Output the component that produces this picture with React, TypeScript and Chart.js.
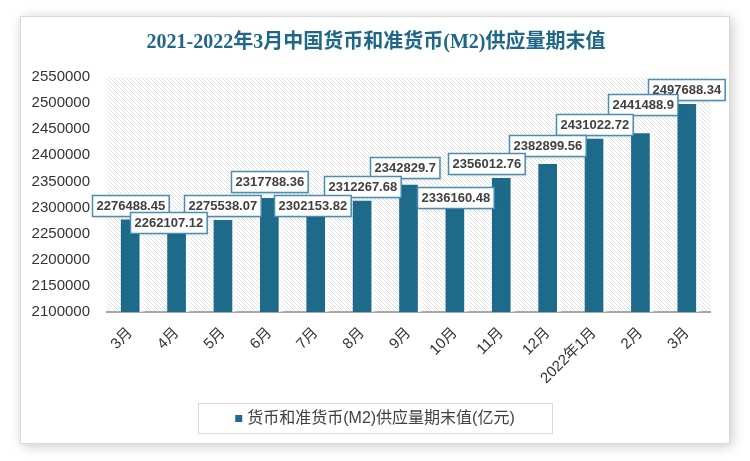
import React, { useEffect, useRef } from "react";
import { Chart, registerables } from "chart.js";

Chart.register(...registerables);

const titleText = "2021-2022年3月中国货币和准货币(M2)供应量期末值";
const seriesName = "货币和准货币(M2)供应量期末值(亿元)";
const categories = ["3月", "4月", "5月", "6月", "7月", "8月", "9月", "10月", "11月", "12月", "2022年1月", "2月", "3月"];
const values = [2276488.45, 2262107.12, 2275538.07, 2317788.36, 2302153.82, 2312267.68, 2342829.7, 2336160.48, 2356012.76, 2382899.56, 2431022.72, 2441488.9, 2497688.34];
const labelTexts = ["2276488.45", "2262107.12", "2275538.07", "2317788.36", "2302153.82", "2312267.68", "2342829.7", "2336160.48", "2356012.76", "2382899.56", "2431022.72", "2441488.9", "2497688.34"];
const yMin = 2100000;
const yMax = 2550000;
const yStep = 50000;

// label nudges (dx, dy) in px relative to default position above bar
const labelNudge: [number, number][] = [
  [0, 0], [-8, 10], [-1, 0], [0, -2], [-3, 14], [0, 0], [-4, -3],
  [0, 23], [-15, 0], [0, -4], [0, 0], [2, -15], [0, 0],
];

const BAR = "#1d6a8b";
const SANS = "'Liberation Sans', 'Noto Sans CJK SC', sans-serif";

function makePattern(ctx: CanvasRenderingContext2D) {
  const c = document.createElement("canvas");
  c.width = 4;
  c.height = 4;
  const p = c.getContext("2d")!;
  p.fillStyle = "#ffffff";
  p.fillRect(0, 0, 4, 4);
  p.fillStyle = "#e0e0e0";
  for (let i = 0; i < 4; i++) p.fillRect(i, i, 1, 1);
  return ctx.createPattern(c, "repeat")!;
}

const bgPlugin = {
  id: "bgPlugin",
  beforeDraw(chart: any) {
    const ctx: CanvasRenderingContext2D = chart.ctx;
    const { left, right, top, bottom } = chart.chartArea;
    ctx.save();
    ctx.fillStyle = "#ffffff";
    ctx.fillRect(0, 0, chart.width, chart.height);
    // card with shadow
    ctx.shadowColor = "rgba(0,0,0,0.22)";
    ctx.shadowBlur = 12;
    ctx.shadowOffsetX = 2;
    ctx.shadowOffsetY = 2;
    ctx.fillStyle = "#ffffff";
    ctx.fillRect(20, 16, 710, 428);
    ctx.shadowColor = "transparent";
    ctx.strokeStyle = "#d9d9d9";
    ctx.lineWidth = 1;
    ctx.strokeRect(20.5, 16.5, 709, 427);
    // hatch plot area
    ctx.fillStyle = makePattern(ctx);
    ctx.fillRect(left, top, right - left, bottom - top);
    // title
    ctx.fillStyle = "#1f678a";
    ctx.font = "bold 20px 'Liberation Serif', 'Noto Sans CJK SC', serif";
    ctx.textAlign = "center";
    ctx.textBaseline = "middle";
    ctx.fillText(titleText, 376, 43);
    // legend
    ctx.strokeStyle = "#d9d9d9";
    ctx.strokeRect(198.5, 403.5, 354, 30);
    ctx.font = "16px " + SANS;
    const tw = ctx.measureText(seriesName).width;
    const total = 7 + 5 + tw;
    const sx = 375 - total / 2;
    ctx.fillStyle = BAR;
    ctx.fillRect(sx, 415, 7, 7);
    ctx.fillStyle = "#404040";
    ctx.textAlign = "left";
    ctx.fillText(seriesName, sx + 12, 419);
    ctx.restore();
  },
  beforeDatasetsDraw(chart: any) {
    const ctx = chart.ctx;
    ctx.save();
    ctx.shadowColor = "rgba(255,255,255,0.95)";
    ctx.shadowBlur = 4;
    ctx.shadowOffsetX = 3;
    ctx.shadowOffsetY = 0;
  },
  afterDatasetsDraw(chart: any) {
    const ctx: CanvasRenderingContext2D = chart.ctx;
    ctx.restore();
    const meta = chart.getDatasetMeta(0);
    ctx.save();
    ctx.font = "bold 13px " + SANS;
    ctx.textAlign = "center";
    ctx.textBaseline = "middle";
    const boxes = meta.data.map((bar: any, i: number) => {
      const txt = labelTexts[i];
      const tw = ctx.measureText(txt).width;
      const w = tw + 8;
      const h = 21;
      const [dx, dy] = labelNudge[i];
      const cx = bar.x + dx;
      const b = bar.y - 4 + dy;
      return { txt, w, h, x0: Math.round(cx - w / 2) + 0.5, y0: Math.round(b - h) + 0.5 };
    });
    boxes.sort((a: any, b: any) => a.y0 - b.y0);
    boxes.forEach((bx: any) => {
      const { txt, w, h, x0, y0 } = bx;
      ctx.shadowColor = "rgba(0,0,0,0.15)";
      ctx.shadowBlur = 3;
      ctx.shadowOffsetX = 1;
      ctx.shadowOffsetY = 1;
      ctx.fillStyle = "#ffffff";
      ctx.fillRect(x0, y0, w, h);
      ctx.shadowColor = "transparent";
      ctx.strokeStyle = "#4a8db0";
      ctx.lineWidth = 1.5;
      ctx.strokeRect(x0, y0, w, h);
      ctx.fillStyle = "#404040";
      ctx.fillText(txt, x0 + w / 2, y0 + h / 2 + 0.5);
    });
    ctx.restore();
  },
};

export default function App() {
  const ref = useRef<HTMLCanvasElement>(null);
  useEffect(() => {
    if (!ref.current) return;
    const chart = new Chart(ref.current, {
      type: "bar",
      data: {
        labels: categories,
        datasets: [
          {
            label: seriesName,
            data: values,
            backgroundColor: BAR,
            borderWidth: 0,
            barThickness: 18,
          },
        ],
      },
      options: {
        responsive: false,
        animation: false,
        layout: { padding: { left: 20, right: 40, top: 77, bottom: 49 } },
        plugins: {
          legend: { display: false },
          title: { display: false },
          tooltip: { enabled: false },
        },
        scales: {
          x: {
            grid: { display: true, color: "transparent", drawTicks: false },
            border: { display: true, color: "#a6a6a6", width: 2 },
            ticks: {
              maxRotation: 45,
              minRotation: 45,
              padding: 12,
              color: "#333333",
              font: { size: 15, family: SANS },
              autoSkip: false,
            },
            afterFit(scale: any) {
              scale.height = 100;
            },
          },
          y: {
            min: yMin,
            max: yMax,
            grid: { display: false, drawTicks: false },
            border: { display: false },
            ticks: {
              stepSize: yStep,
              padding: 17,
              color: "#333333",
              font: { size: 15, family: SANS },
              callback: (v: any) => String(v),
            },
            afterFit(scale: any) {
              scale.width = 87;
            },
          },
        },
      },
      plugins: [bgPlugin],
    });
    return () => chart.destroy();
  }, []);
  return (
    <div style={{ position: "absolute", left: 0, top: 0, width: 750, height: 461 }}>
      <canvas ref={ref} width={750} height={461} />
    </div>
  );
}
